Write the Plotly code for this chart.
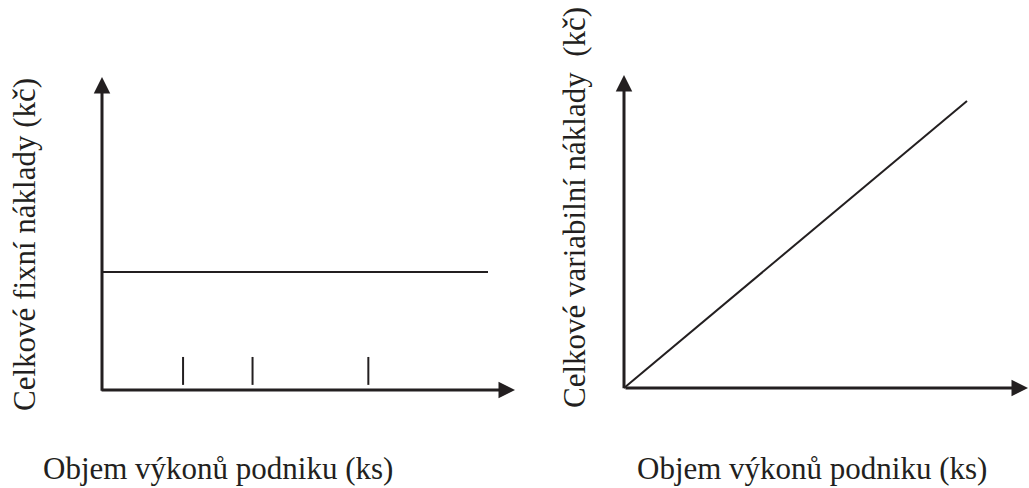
import plotly.graph_objects as go

# ---------------- data ----------------
volume = [0, 10]                     # output volume (ks), arbitrary units
fixed_costs = [3, 3]                 # total fixed costs (kč) – constant
variable_costs = [0, 10]             # total variable costs (kč) – proportional
step_positions = [2.1, 3.9, 6.9]     # small vertical marks on the left chart
step_bottom = 0.13
step_top = 0.84

x_title = "Objem výkonů podniku (ks)"
y_title_left = "Celkové fixní náklady (kč)"
y_title_right = "Celkové variabilní\u00a0náklady\u00a0\u00a0(kč)"

# ---------------- layout geometry (pixels) ----------------
W, H = 1029, 488
split = 0.52
# left panel: origin pixel and pixels per unit
L_ox, L_oy, L_ux, L_uy = 102, 390, 38.6, 39.33
# right panel
R_ox, R_oy, R_ux, R_uy = 624, 388, 34.3, 28.7

def xrange(ox, ux, p0, p1):
    return [(p0 - ox) / ux, (p1 - ox) / ux]

def yrange(oy, uy):
    return [(oy - H) / uy, oy / uy]

ink = "#231f20"
font = dict(family="Liberation Serif", size=31, color=ink)

fig = go.Figure()

# fixed costs line
fig.add_trace(go.Scatter(x=volume, y=fixed_costs, mode="lines",
                         line=dict(color=ink, width=2), xaxis="x", yaxis="y",
                         hoverinfo="skip"))
# small marks
for p in step_positions:
    fig.add_trace(go.Scatter(x=[p, p], y=[step_bottom, step_top], mode="lines",
                             line=dict(color=ink, width=2), xaxis="x", yaxis="y",
                             hoverinfo="skip"))
# variable costs line
fig.add_trace(go.Scatter(x=volume, y=variable_costs, mode="lines",
                         line=dict(color=ink, width=2), xaxis="x2", yaxis="y2",
                         hoverinfo="skip"))

ax_common = dict(visible=False, showgrid=False, zeroline=False, fixedrange=True)
fig.update_layout(
    width=W, height=H,
    margin=dict(l=0, r=0, t=0, b=0),
    paper_bgcolor="white", plot_bgcolor="white",
    showlegend=False,
    xaxis=dict(domain=[0, split], range=xrange(L_ox, L_ux, 0, split * W), **ax_common),
    yaxis=dict(domain=[0, 1], range=yrange(L_oy, L_uy), **ax_common),
    xaxis2=dict(domain=[split, 1], range=xrange(R_ox, R_ux, split * W, W), anchor="y2", **ax_common),
    yaxis2=dict(domain=[0, 1], range=yrange(R_oy, R_uy), anchor="x2", **ax_common),
)

arrow = dict(showarrow=True, arrowhead=2, arrowsize=1.1, arrowwidth=3,
             arrowcolor=ink, standoff=0, text="")
# left axes
fig.add_annotation(x=0, y=(L_oy - 77) / L_uy, ax=0, ay=-0.06, xref="x", yref="y",
                   axref="x", ayref="y", **arrow)
fig.add_annotation(x=(515 - L_ox) / L_ux, y=0, ax=-0.05, ay=0, xref="x", yref="y",
                   axref="x", ayref="y", **arrow)
# right axes
fig.add_annotation(x=0, y=(R_oy - 75) / R_uy, ax=0, ay=-0.06, xref="x2", yref="y2",
                   axref="x2", ayref="y2", **arrow)
fig.add_annotation(x=1039 / W, y=1 - R_oy / H, ax=-(1039 - R_ox), ay=0,
                   xref="paper", yref="paper", **arrow)

# titles
fig.add_annotation(x=24 / W, y=1 - 245 / H, xref="paper", yref="paper", text=y_title_left,
                   textangle=-90, showarrow=False, font=font, xanchor="center", yanchor="middle")
fig.add_annotation(x=574 / W, y=1 - 208 / H, xref="paper", yref="paper", text=y_title_right,
                   textangle=-90, showarrow=False, font=font, xanchor="center", yanchor="middle")
fig.add_annotation(x=218 / W, y=1 - 468 / H, xref="paper", yref="paper", text=x_title,
                   showarrow=False, font=font, xanchor="center", yanchor="middle")
fig.add_annotation(x=812 / W, y=1 - 468 / H, xref="paper", yref="paper", text=x_title,
                   showarrow=False, font=font, xanchor="center", yanchor="middle")

fig.write_html("out.html", config={"displayModeBar": False},
               post_script="document.body.style.margin='0px';")
